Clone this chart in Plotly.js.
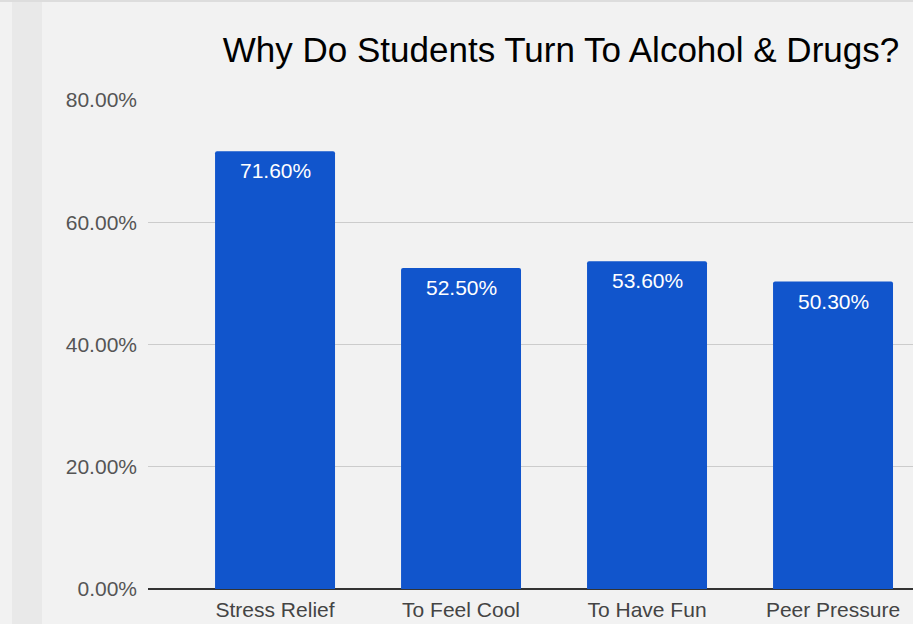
<!DOCTYPE html>
<html>
<head>
<meta charset="utf-8">
<script src="https://cdn.plot.ly/plotly-3.0.1.min.js"></script>
<style>html,body{margin:0;padding:0;background:#f2f2f2;}#chart{width:913px;height:624px;}</style>
</head>
<body>
<div id="chart"></div>
<script>
const categories = ["Stress Relief", "To Feel Cool", "To Have Fun", "Peer Pressure"];
const values = [0.716, 0.525, 0.536, 0.503];
const labels = ["71.60%", "52.50%", "53.60%", "50.30%"];

const trace = {
  type: 'bar',
  x: categories,
  y: values,
  marker: {color: '#1155cc', cornerradius: 2},
  width: 0.645,
  hoverinfo: 'none'
};

const annotations = categories.map((c, i) => ({
  x: c, y: values[i], xref: 'x', yref: 'y',
  text: labels[i], showarrow: false,
  xanchor: 'center', yanchor: 'top', yshift: -6,
  font: {family: 'Liberation Sans, Arial, sans-serif', size: 21, color: '#ffffff'}
}));

const layout = {
  width: 913, height: 624,
  paper_bgcolor: '#f2f2f2',
  plot_bgcolor: '#f2f2f2',
  margin: {l: 148, r: 0, t: 100, b: 35},
  showlegend: false,
  annotations: annotations,
  title: {
    text: 'Why Do Students Turn To Alcohol & Drugs?',
    font: {family: 'Liberation Sans, Arial, sans-serif', size: 35, color: '#000000'},
    x: 561/913, xanchor: 'center', xref: 'container',
    y: 1 - 50/624, yanchor: 'middle', yref: 'container'
  },
  xaxis: {
    type: 'category',
    range: [-0.683, 3.430],
    showgrid: false,
    showline: false,
    zeroline: false,
    ticks: '',
    ticklabelstandoff: 6,
    tickfont: {family: 'Liberation Sans, Arial, sans-serif', size: 21, color: '#444444'},
    automargin: false
  },
  yaxis: {
    range: [0, 0.8],
    dtick: 0.2,
    tickformat: '.2%',
    showgrid: true,
    gridcolor: '#cccccc',
    gridwidth: 1,
    zeroline: true,
    zerolinecolor: '#333333',
    zerolinewidth: 2,
    ticks: '',
    ticklabelstandoff: 10,
    tickfont: {family: 'Liberation Sans, Arial, sans-serif', size: 21, color: '#555555'},
    automargin: false
  },
  shapes: [
    {type: 'rect', xref: 'paper', yref: 'paper', layer: 'below',
     x0: -136/765, x1: -106/765, y0: -35/489, y1: 624/489 - 35/489,
     fillcolor: '#e9e9e9', line: {width: 0}},
    {type: 'rect', xref: 'paper', yref: 'paper', layer: 'below',
     x0: -148/765, x1: 1, y0: 1 + 98/489, y1: 1 + 100/489,
     fillcolor: '#dddddd', line: {width: 0}}
  ]
};

Plotly.newPlot('chart', [trace], layout, {displayModeBar: false, staticPlot: true});
</script>
</body>
</html>
